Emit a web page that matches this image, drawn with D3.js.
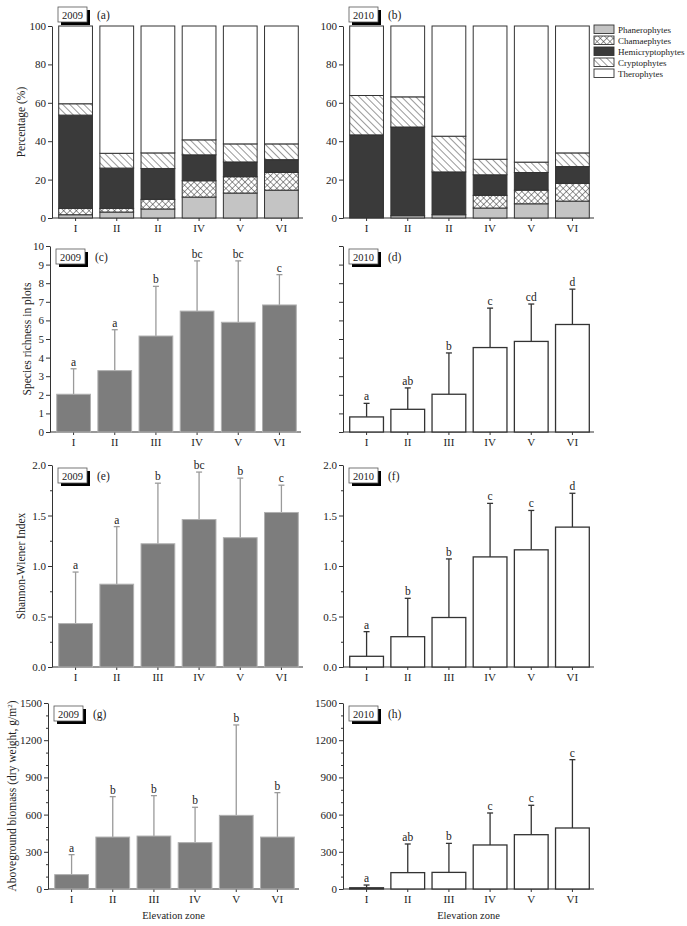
<!DOCTYPE html>
<html>
<head>
<meta charset="utf-8">
<script src="https://d3js.org/d3.v7.min.js"></script>
<style>
  body { margin: 0; background: #fff; }
  svg { display: block; font-family: "Liberation Serif", "Times New Roman", serif; }
  .axis path, .axis line { stroke: #333; }
  .axis text { font-size: 11px; fill: #222; font-family: "Liberation Serif", serif; }
</style>
</head>
<body>
<svg id="fig" width="687" height="926"></svg>
<script>
// ---- data ----
const zones = ["I", "II", "III", "IV", "V", "VI"];
const zoneLabelsTop = ["I", "II", "II", "IV", "V", "VI"];   // as printed in (a),(b)
const lifeForms = ["Phanerophytes", "Chamaephytes", "Hemicryptophytes", "Cryptophytes", "Therophytes"];

// life-form spectrum, % per zone
const phanero2009 = [1.7, 3.1, 4.7, 10.9, 13.0, 14.5];
const chamae2009  = [3.3, 1.9, 5.0, 8.5, 8.5, 9.2];
const hemi2009    = [48.6, 21.0, 16.1, 13.5, 7.7, 6.7];
const crypto2009  = [5.9, 7.7, 8.1, 7.8, 9.4, 8.2];
const thero2009   = [40.5, 66.3, 66.1, 59.3, 61.4, 61.4];

const phanero2010 = [0, 1.2, 1.7, 5.2, 7.4, 8.8];
const chamae2010  = [0, 0, 0, 6.6, 7.1, 9.2];
const hemi2010    = [43.3, 46.2, 22.3, 10.7, 9.2, 8.8];
const crypto2010  = [20.5, 15.7, 18.6, 8.1, 5.4, 7.1];
const thero2010   = [36.2, 36.9, 57.4, 69.4, 70.9, 66.1];

// species richness
const richness2009 = [2.03, 3.3, 5.16, 6.5, 5.9, 6.83];
const richnessErr2009 = [3.4, 5.5, 7.83, 9.2, 9.2, 8.46];
const richnessSig2009 = ["a", "a", "b", "bc", "bc", "c"];
const richness2010 = [0.81, 1.22, 2.03, 4.54, 4.87, 5.78];
const richnessErr2010 = [1.54, 2.37, 4.25, 6.66, 6.88, 7.68];
const richnessSig2010 = ["a", "ab", "b", "c", "cd", "d"];

// Shannon-Wiener
const shannon2009 = [0.43, 0.82, 1.22, 1.46, 1.28, 1.53];
const shannonErr2009 = [0.94, 1.39, 1.82, 1.93, 1.87, 1.80];
const shannonSig2009 = ["a", "a", "b", "bc", "b", "c"];
const shannon2010 = [0.106, 0.30, 0.49, 1.09, 1.16, 1.385];
const shannonErr2010 = [0.35, 0.68, 1.07, 1.62, 1.55, 1.72];
const shannonSig2010 = ["a", "b", "b", "c", "c", "d"];

// aboveground biomass
const biomass2009 = [116, 419, 427, 374, 594, 419];
const biomassErr2009 = [277, 745, 753, 659, 1323, 777];
const biomassSig2009 = ["a", "b", "b", "b", "b", "b"];
const biomass2010 = [10, 132, 134, 355, 438, 492];
const biomassErr2010 = [32, 363, 368, 613, 675, 1043];
const biomassSig2010 = ["a", "ab", "b", "c", "c", "c"];

// ---- layout ----
const svg = d3.select("#fig");
const rows = [
  {top: 26, bottom: 218},
  {top: 246, bottom: 432},
  {top: 465, bottom: 667},
  {top: 703, bottom: 889}
];
const leftX = [52, 50, 52, 48];
const rightX = 343;
const plotW = 251;

// patterns
const defs = svg.append("defs");
const cross = defs.append("pattern").attr("id", "cross")
  .attr("patternUnits", "userSpaceOnUse").attr("width", 4.5).attr("height", 4.5)
  .attr("patternTransform", "rotate(45)");
cross.append("rect").attr("width", 4.5).attr("height", 4.5).attr("fill", "#fff");
cross.append("line").attr("x1", 0).attr("y1", 0).attr("x2", 0).attr("y2", 4.5).attr("stroke", "#333").attr("stroke-width", 1);
cross.append("line").attr("x1", 0).attr("y1", 0).attr("x2", 4.5).attr("y2", 0).attr("stroke", "#333").attr("stroke-width", 1);
const diag = defs.append("pattern").attr("id", "diag")
  .attr("patternUnits", "userSpaceOnUse").attr("width", 5).attr("height", 5)
  .attr("patternTransform", "rotate(-45)");
diag.append("rect").attr("width", 5).attr("height", 5).attr("fill", "#fff");
diag.append("line").attr("x1", 0).attr("y1", 0).attr("x2", 0).attr("y2", 5).attr("stroke", "#333").attr("stroke-width", 1);

const formFill = ["#c4c4c4", "url(#cross)", "#3a3a3a", "url(#diag)", "#fff"];

function axes(x0, row, y, major, minor, fmt, labels) {
  const g = svg.append("g");
  const x = d3.scaleBand().domain(zones).range([x0 + 3, x0 + plotW - 1]).paddingInner(0.18).paddingOuter(0.09);
  // minor ticks
  if (minor) {
    g.append("g").attr("class", "axis").attr("transform", `translate(${x0},0)`)
      .call(d3.axisLeft(y).tickValues(minor).tickSize(2).tickFormat(""))
      .select(".domain").remove();
  }
  g.append("g").attr("class", "axis").attr("transform", `translate(${x0},0)`)
    .call(d3.axisLeft(y).tickValues(major).tickSize(4).tickSizeOuter(0).tickFormat(fmt).tickPadding(2));
  const xa = g.append("g").attr("class", "axis").attr("transform", `translate(0,${row.bottom})`)
    .call(d3.axisBottom(x).tickSize(3).tickPadding(3).tickFormat((d, i) => labels[i]));
  xa.select(".domain").remove();
  g.append("line").attr("x1", x0).attr("x2", x0 + plotW).attr("y1", row.bottom).attr("y2", row.bottom)
    .attr("stroke", "#333");
  return {g, x};
}

function tag(x0, boxY, year, letter) {
  const g = svg.append("g");
  g.append("rect").attr("x", x0 + 9).attr("y", boxY + 3).attr("width", 29).attr("height", 15).attr("fill", "#000");
  g.append("rect").attr("x", x0 + 6).attr("y", boxY).attr("width", 29).attr("height", 15)
    .attr("fill", "#fff").attr("stroke", "#555").attr("stroke-width", 0.8);
  g.append("text").attr("x", x0 + 20.5).attr("y", boxY + 11.5).attr("text-anchor", "middle")
    .attr("font-size", 10.5).attr("fill", "#222").text(year);
  g.append("text").attr("x", x0 + 45).attr("y", boxY + 12).attr("font-size", 11.5).attr("fill", "#222").text(letter);
}

function stacked(x0, row, cols, year, letter) {
  const y = d3.scaleLinear().domain([0, 100]).range([row.bottom, row.top]);
  const {g, x} = axes(x0, row, y, d3.range(0, 101, 20), null, d3.format("d"), zoneLabelsTop);
  const table = zones.map((z, i) => {
    const o = {zone: z};
    lifeForms.forEach((f, k) => o[f] = cols[k][i]);
    return o;
  });
  const series = d3.stack().keys(lifeForms)(table);
  series.forEach((s, k) => {
    g.append("g").selectAll("rect").data(s).join("rect")
      .attr("x", d => x(d.data.zone)).attr("width", x.bandwidth())
      .attr("y", d => y(d[1])).attr("height", d => y(d[0]) - y(d[1]))
      .attr("fill", formFill[k]).attr("stroke", "#333").attr("stroke-width", 1);
  });
  tag(x0, row.top - 19, year, letter);
}

function barPanel(x0, row, vals, errs, sig, yMax, major, minor, fmt, filled, year, letter) {
  const y = d3.scaleLinear().domain([0, yMax]).range([row.bottom, row.top]);
  const {g, x} = axes(x0, row, y, major, minor, fmt, zones);
  const errCol = filled ? "#9a9a9a" : "#333";
  const cw = x.bandwidth();
  g.append("g").selectAll("line").data(zones).join("line")
    .attr("x1", d => x(d) + cw / 2).attr("x2", d => x(d) + cw / 2)
    .attr("y1", (d, i) => y(vals[i])).attr("y2", (d, i) => y(errs[i]))
    .attr("stroke", errCol).attr("stroke-width", 1.3);
  g.append("g").selectAll("line").data(zones).join("line")
    .attr("x1", d => x(d) + cw / 2 - 3).attr("x2", d => x(d) + cw / 2 + 3)
    .attr("y1", (d, i) => y(errs[i])).attr("y2", (d, i) => y(errs[i]))
    .attr("stroke", errCol).attr("stroke-width", 1.3);
  g.append("g").selectAll("rect").data(zones).join("rect")
    .attr("x", d => x(d)).attr("width", cw)
    .attr("y", (d, i) => y(vals[i])).attr("height", (d, i) => y(0) - y(vals[i]))
    .attr("fill", filled ? "#7d7d7d" : "#fff")
    .attr("stroke", filled ? "#b0b0b0" : "#333").attr("stroke-width", filled ? 1 : 1.3);
  g.append("g").selectAll("text").data(zones).join("text")
    .attr("x", d => x(d) + cw / 2).attr("y", (d, i) => y(errs[i]) - 3)
    .attr("text-anchor", "middle").attr("font-size", 11.5).attr("fill", "#222")
    .text((d, i) => sig[i]);
  tag(x0, row.top + 3, year, letter);
}

// row 1: life forms
stacked(leftX[0], rows[0], [phanero2009, chamae2009, hemi2009, crypto2009, thero2009], "2009", "(a)");
stacked(rightX, rows[0], [phanero2010, chamae2010, hemi2010, crypto2010, thero2010], "2010", "(b)");

// legend
const leg = svg.append("g").attr("transform", "translate(594,25)");
lifeForms.forEach((f, k) => {
  leg.append("rect").attr("x", 0).attr("y", k * 11).attr("width", 20).attr("height", 8.5)
    .attr("fill", formFill[k]).attr("stroke", "#333").attr("stroke-width", 0.9);
  leg.append("text").attr("x", 24).attr("y", k * 11 + 8).attr("font-size", 9).attr("fill", "#222").text(f);
});

// row 2: richness
const intTicks = d3.range(0, 11, 1);
barPanel(leftX[1], rows[1], richness2009, richnessErr2009, richnessSig2009, 10, intTicks, null, d3.format("d"), true, "2009", "(c)");
barPanel(rightX, rows[1], richness2010, richnessErr2010, richnessSig2010, 10, intTicks, null, () => "", false, "2010", "(d)");

// row 3: Shannon
const shMajor = [0, 0.5, 1, 1.5, 2];
const shMinor = [0.25, 0.75, 1.25, 1.75];
barPanel(leftX[2], rows[2], shannon2009, shannonErr2009, shannonSig2009, 2, shMajor, shMinor, d3.format(".1f"), true, "2009", "(e)");
barPanel(rightX, rows[2], shannon2010, shannonErr2010, shannonSig2010, 2, shMajor, shMinor, d3.format(".1f"), false, "2010", "(f)");

// row 4: biomass
const bmMajor = d3.range(0, 1501, 300);
const bmMinor = d3.range(100, 1500, 100).filter(v => v % 300 !== 0);
barPanel(leftX[3], rows[3], biomass2009, biomassErr2009, biomassSig2009, 1500, bmMajor, bmMinor, d3.format("d"), true, "2009", "(g)");
barPanel(rightX, rows[3], biomass2010, biomassErr2010, biomassSig2010, 1500, bmMajor, bmMinor, d3.format("d"), false, "2010", "(h)");

// axis titles
function yTitle(x, cy, txt) {
  const t = svg.append("text").attr("transform", `translate(${x},${cy}) rotate(-90)`)
    .attr("text-anchor", "middle").attr("font-size", 11.5).attr("fill", "#222");
  return t.text(txt);
}
yTitle(25, 122, "Percentage (%)");
yTitle(31, 339, "Species richness in plots");
yTitle(25, 566, "Shannon-Wiener Index");
const bt = yTitle(16, 796, "Aboveground biomass (dry weight, g/m");
bt.append("tspan").attr("baseline-shift", "super").attr("font-size", 7).text("2");
bt.append("tspan").text(")");

svg.append("text").attr("x", leftX[3] + plotW / 2).attr("y", 919).attr("text-anchor", "middle")
  .attr("font-size", 10.5).attr("fill", "#222").text("Elevation zone");
svg.append("text").attr("x", rightX + plotW / 2).attr("y", 919).attr("text-anchor", "middle")
  .attr("font-size", 10.5).attr("fill", "#222").text("Elevation zone");
</script>
</body>
</html>
